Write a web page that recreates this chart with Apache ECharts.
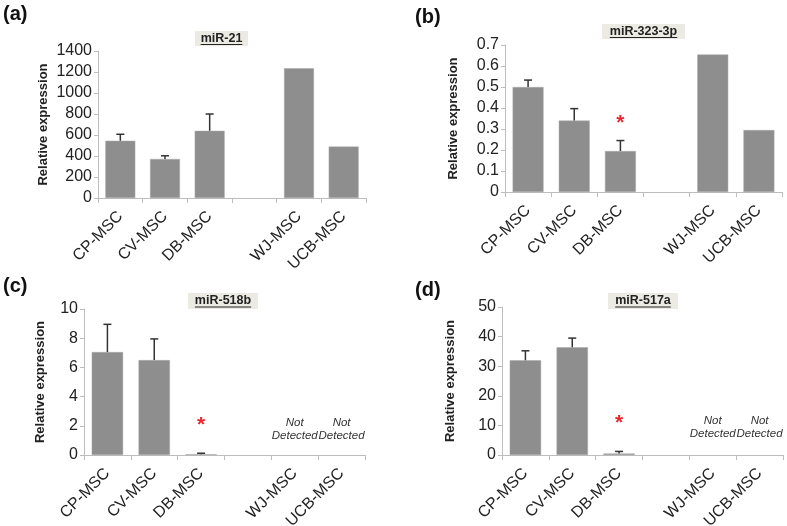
<!DOCTYPE html>
<html>
<head>
<meta charset="utf-8">
<script src="https://cdn.jsdelivr.net/npm/echarts@6/dist/echarts.min.js"></script>
<style>
  html, body { margin: 0; padding: 0; background: #fff; }
  #chart { width: 787px; height: 526px; }
</style>
</head>
<body>
<div id="chart"></div>
<script>
// categories (the empty slot is the gap between the two groups)
const categories = ["CP-MSC", "CV-MSC", "DB-MSC", "", "WJ-MSC", "UCB-MSC"];

// (a) miR-21
const mir21Values = [545, 372, 640, null, 1235, 490];
const mir21Errors = [62, 30, 160, null, null, null];
// (b) miR-323-3p
const mir323Values = [0.5, 0.34, 0.195, null, 0.655, 0.295];
const mir323Errors = [0.033, 0.057, 0.05, null, null, null];
const mir323Stars = [null, null, 0.35, null, null, null];
// (c) miR-518b
const mir518bValues = [7.05, 6.5, 0.05, null, null, null];
const mir518bErrors = [1.9, 1.45, 0.07, null, null, null];
const mir518bStars = [null, null, 2.4, null, null, null];
const mir518bNotDetected = [null, null, null, null, 1.75, 1.75];
// (d) miR-517a
const mir517aValues = [32, 36.4, 0.5, null, null, null];
const mir517aErrors = [3.2, 3.1, 0.7, null, null, null];
const mir517aStars = [null, null, 12.6, null, null, null];
const mir517aNotDetected = [null, null, null, null, 9.2, 9.2];

const FONT = "'Liberation Sans', Arial, sans-serif";
const AXIS_COLOR = "#bdbdbd";
const TEXT_COLOR = "#222";

const panels = [
    { label: "(a)", labelPos: [3, 4], title: "miR-21", titleBox: [195, 31, 53, 15],
      values: mir21Values, errors: mir21Errors, stars: null, nd: null,
      max: 1400, interval: 200, nameGap: 48,
      grid: { left: 98, top: 51, width: 268, height: 147 } },
    { label: "(b)", labelPos: [415, 7], title: "miR-323-3p", titleBox: [602, 24, 83, 15],
      values: mir323Values, errors: mir323Errors, stars: mir323Stars, nd: null,
      max: 0.7, interval: 0.1, nameGap: 45,
      grid: { left: 505, top: 45, width: 277, height: 147 } },
    { label: "(c)", labelPos: [3, 276], title: "miR-518b", titleBox: [188, 293, 70, 16],
      values: mir518bValues, errors: mir518bErrors, stars: mir518bStars, nd: mir518bNotDetected,
      max: 10, interval: 2, nameGap: 37,
      grid: { left: 84, top: 309, width: 281, height: 146 } },
    { label: "(d)", labelPos: [415, 280], title: "miR-517a", titleBox: [608, 293, 70, 16],
      values: mir517aValues, errors: mir517aErrors, stars: mir517aStars, nd: mir517aNotDetected,
      max: 50, interval: 10, nameGap: 45,
      grid: { left: 502, top: 307, width: 281, height: 148 } }
];

const measureCtx = document.createElement("canvas").getContext("2d");
function textWidth(text, font) { measureCtx.font = font; return measureCtx.measureText(text).width; }

const grids = [], xAxes = [], yAxes = [], series = [], graphics = [];

panels.forEach((p, i) => {
    grids.push(Object.assign({ outerBoundsMode: "none", containLabel: false }, p.grid));
    xAxes.push({
        type: "category", gridIndex: i, data: categories, boundaryGap: true,
        axisLine: { lineStyle: { color: AXIS_COLOR, width: 1 } },
        axisTick: { show: true, length: 5, interval: 0, lineStyle: { color: AXIS_COLOR } },
        axisLabel: { interval: 0, rotate: 45, margin: 16, color: TEXT_COLOR, fontSize: 16, fontFamily: FONT }
    });
    yAxes.push({
        type: "value", gridIndex: i, min: 0, max: p.max, interval: p.interval,
        name: "Relative expression", nameLocation: "middle", nameGap: p.nameGap,
        nameTextStyle: { fontWeight: "bold", fontSize: 13, color: TEXT_COLOR, fontFamily: FONT },
        axisLine: { show: true, lineStyle: { color: AXIS_COLOR, width: 1 } },
        axisTick: { show: true, length: 4, lineStyle: { color: AXIS_COLOR } },
        splitLine: { show: false },
        axisLabel: { color: TEXT_COLOR, fontSize: 16, fontFamily: FONT, margin: 6,
            formatter: v => String(Math.round(v * 1000) / 1000) }
    });
    series.push({
        type: "bar", xAxisIndex: i, yAxisIndex: i, data: p.values, barCategoryGap: "33%",
        itemStyle: { color: "#8e8e8e", borderColor: "#a9a9a9", borderWidth: 0.5 }, silent: true
    });
    // one-sided error bars
    const errData = [];
    p.values.forEach((v, k) => { if (v != null && p.errors[k] != null) errData.push([k, v, p.errors[k]]); });
    series.push({
        type: "custom", xAxisIndex: i, yAxisIndex: i, data: errData, silent: true, z: 5,
        renderItem: (params, api) => {
            const base = api.coord([api.value(0), api.value(1)]);
            const top = api.coord([api.value(0), api.value(1) + api.value(2)]);
            const style = { stroke: "#333", lineWidth: 1.5 };
            return { type: "group", children: [
                { type: "line", shape: { x1: base[0], y1: base[1], x2: top[0], y2: top[1] }, style },
                { type: "line", shape: { x1: top[0] - 4, y1: top[1], x2: top[0] + 4, y2: top[1] }, style }
            ] };
        }
    });
    if (p.stars) {
        const starData = [];
        p.stars.forEach((v, k) => { if (v != null) starData.push([k, v]); });
        series.push({
            type: "custom", xAxisIndex: i, yAxisIndex: i, data: starData, silent: true, z: 6,
            renderItem: (params, api) => {
                const pt = api.coord([api.value(0), api.value(1)]);
                return { type: "text", style: { text: "*", x: pt[0], y: pt[1] + 5, align: "center", verticalAlign: "middle",
                    fill: "#e8262e", font: "bold 21px " + FONT } };
            }
        });
    }
    if (p.nd) {
        const ndData = [];
        p.nd.forEach((v, k) => { if (v != null) ndData.push([k, v]); });
        series.push({
            type: "custom", xAxisIndex: i, yAxisIndex: i, data: ndData, silent: true, z: 6,
            renderItem: (params, api) => {
                const pt = api.coord([api.value(0), api.value(1)]);
                return { type: "text", style: { text: "Not\nDetected", x: pt[0], y: pt[1], align: "center", verticalAlign: "middle",
                    fill: "#333", font: "italic 11.5px " + FONT, lineHeight: 13 } };
            }
        });
    }
    // panel letter
    graphics.push({ type: "text", left: p.labelPos[0], top: p.labelPos[1],
        style: { text: p.label, fill: "#111", font: "bold 20px " + FONT } });
    // boxed, underlined panel title
    const [bx, by, bw, bh] = p.titleBox;
    const tFont = "bold 12.5px " + FONT;
    const tw = textWidth(p.title, tFont);
    graphics.push({ type: "rect", shape: { x: bx, y: by, width: bw, height: bh }, style: { fill: "#ecebe3" } });
    graphics.push({ type: "text", x: bx + bw / 2, y: by + bh / 2,
        style: { text: p.title, fill: "#222", font: tFont, align: "center", verticalAlign: "middle" } });
    graphics.push({ type: "line", shape: { x1: bx + bw / 2 - tw / 2, y1: by + bh / 2 + 6, x2: bx + bw / 2 + tw / 2, y2: by + bh / 2 + 6 },
        style: { stroke: "#222", lineWidth: 1 } });
});

const chart = echarts.init(document.getElementById("chart"), null, { renderer: "canvas" });
chart.setOption({
    backgroundColor: "#fff",
    animation: false,
    grid: grids, xAxis: xAxes, yAxis: yAxes, series: series,
    graphic: graphics
});
</script>
</body>
</html>
